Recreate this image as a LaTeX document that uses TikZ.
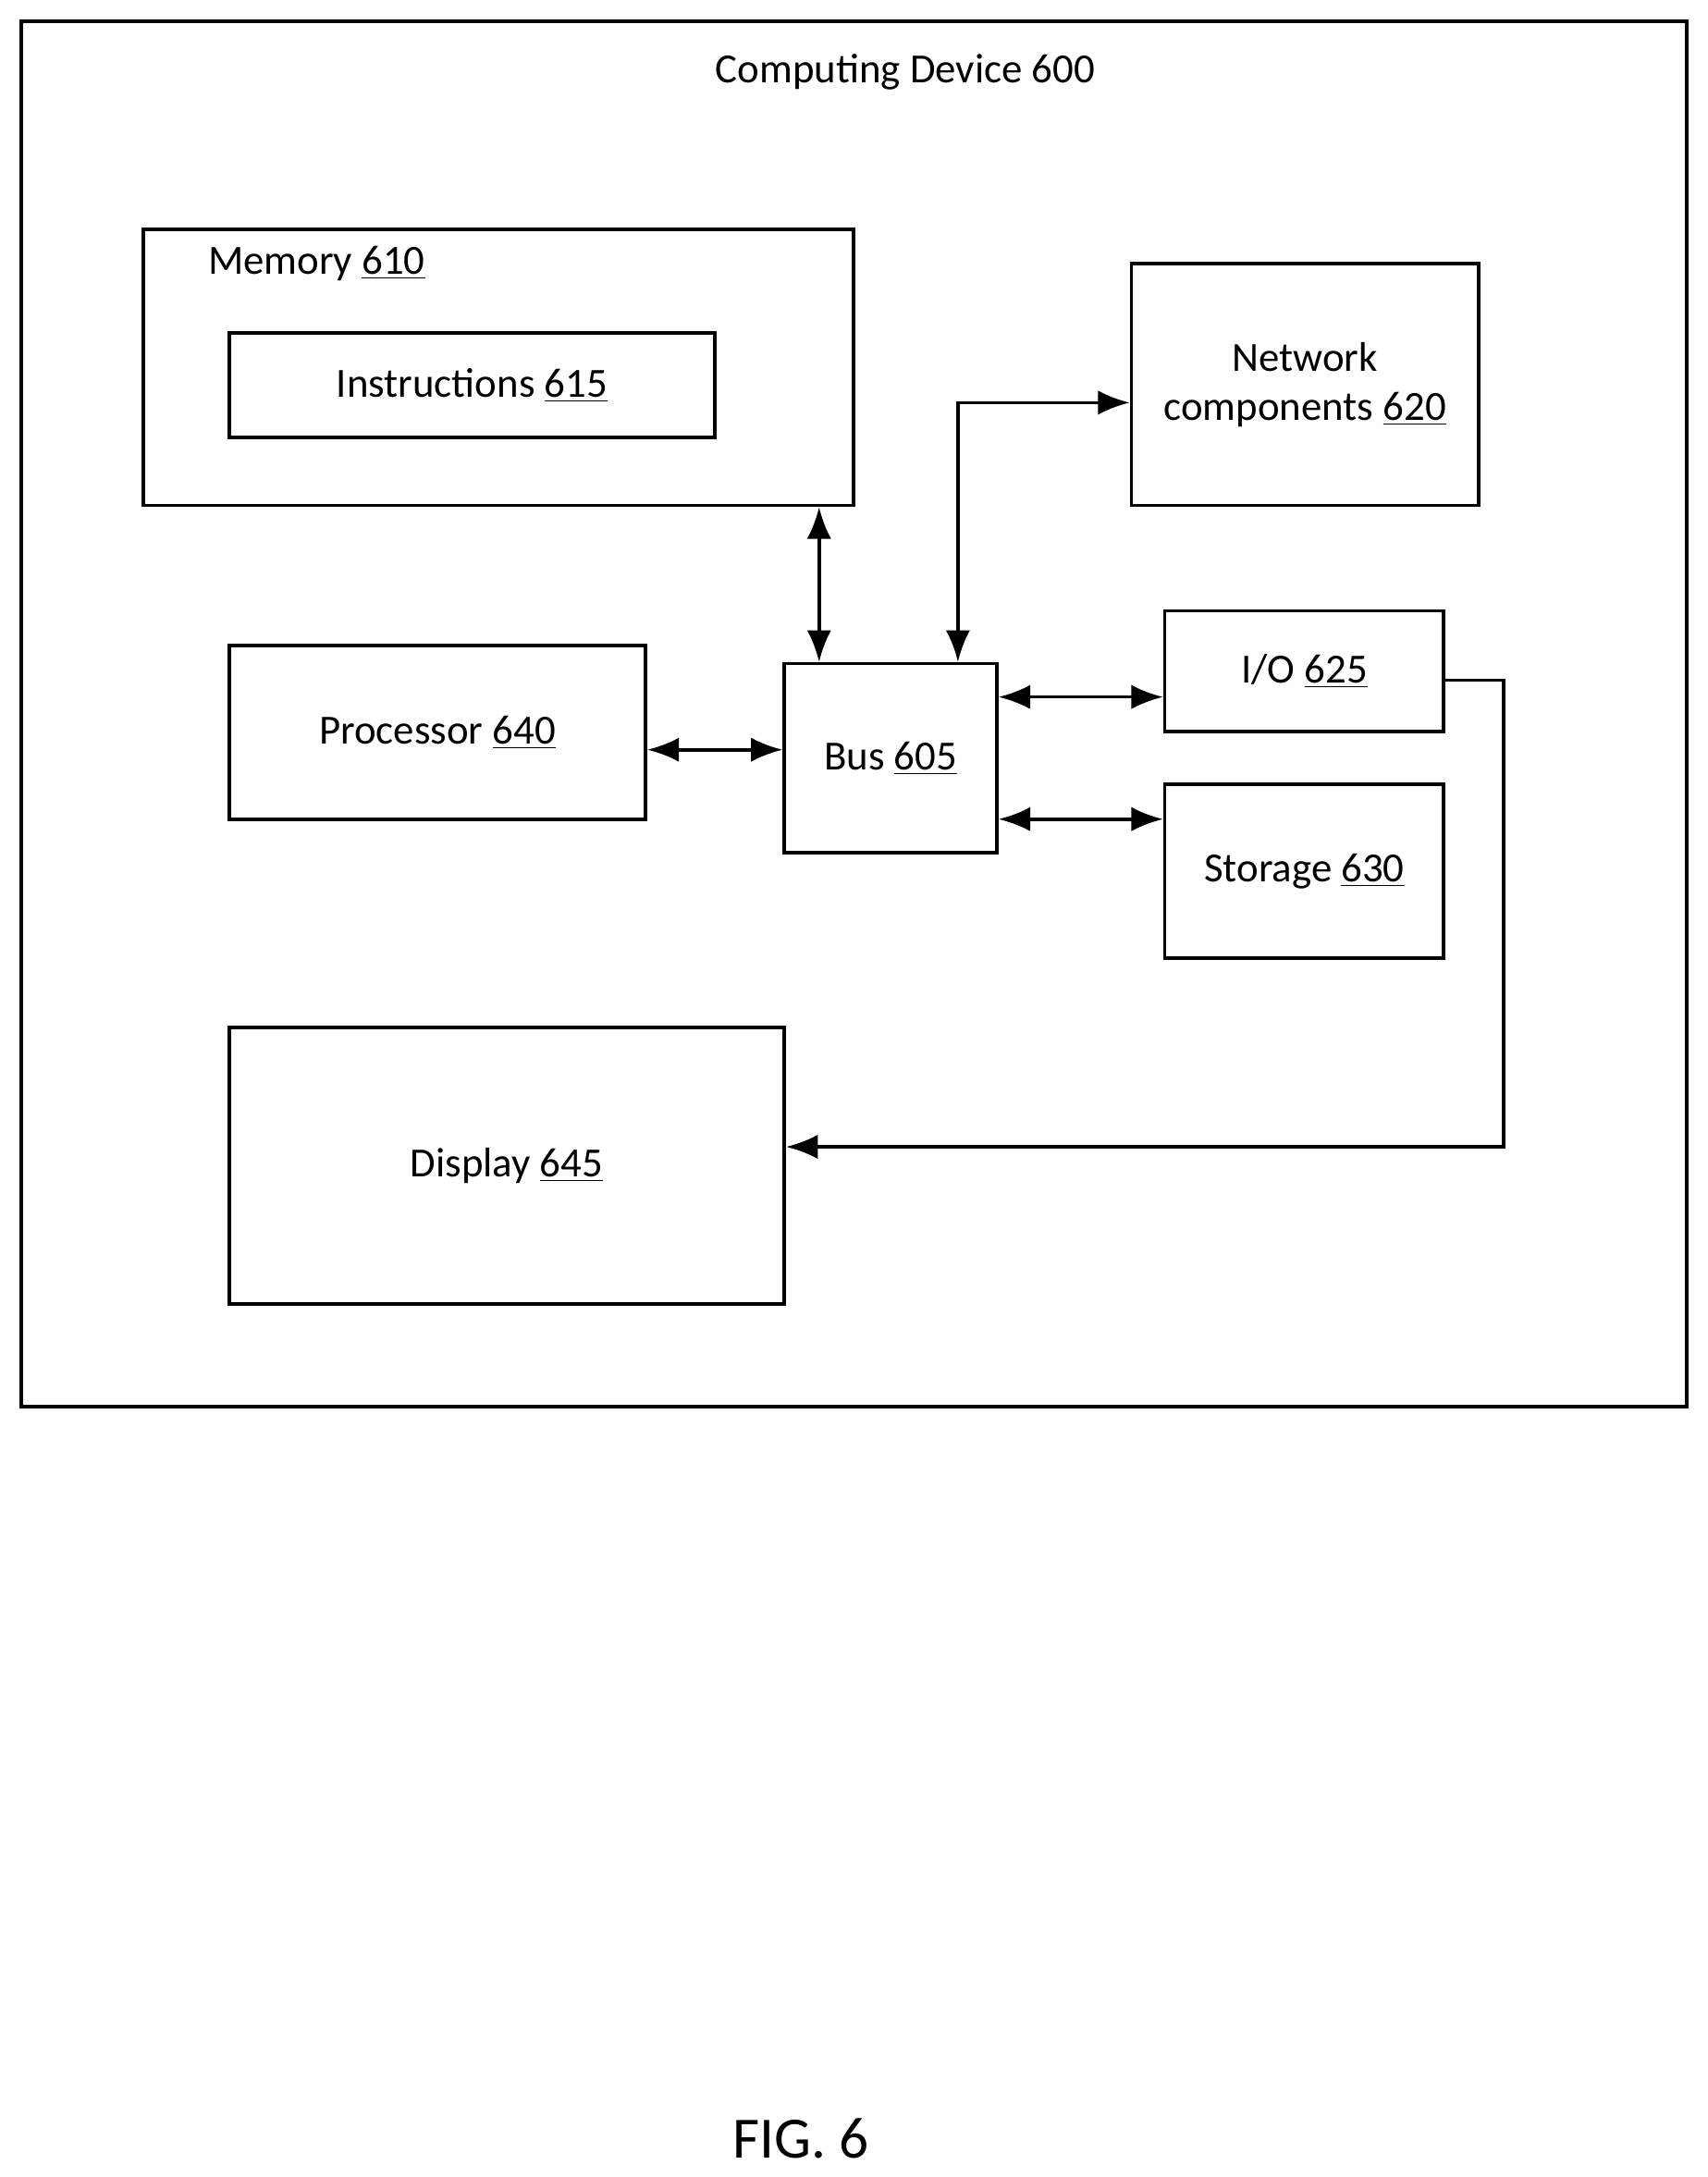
\documentclass[tikz,border=0pt]{standalone}
\usepackage{fontspec}
\setmainfont{Carlito}
\usetikzlibrary{arrows.meta, positioning}

\begin{document}
\begin{tikzpicture}[x=0.02cm, y=-0.02cm, font=\fontsize{17}{20}\selectfont,
    box/.style={draw, line width=1.4pt, inner sep=0pt, align=center},
    link/.style={line width=1.4pt, {Latex[length=13pt,width=10pt]}-{Latex[length=13pt,width=10pt]}},
    oneway/.style={line width=1.4pt, -{Latex[length=13pt,width=10pt]}}]
    \useasboundingbox (0,0) rectangle (1230,1568);

    % Outer device
    \node[box, minimum width=24cm, minimum height=19.96cm] (device) at (615,514) {};
    \node (title) at (652,52) {Computing Device 600};

    % Memory block
    \node[box, minimum width=10.24cm, minimum height=3.98cm] (memory) at (359,264.5) {};
    \node (memlabel) at (228,190) {Memory \underline{610}};
    \node[box, minimum width=7cm, minimum height=1.5cm] (instr) at (340,277.5) {Instructions \underline{615}};

    % Other components
    \node[box, minimum width=5cm, minimum height=3.48cm] (network) at (940,277) {Network\\components \underline{620}};
    \node[box, minimum width=6cm, minimum height=2.5cm] (proc) at (315,527.5) {Processor \underline{640}};
    \node[box, minimum width=3.06cm, minimum height=2.72cm] (bus) at (641.5,546) {Bus \underline{605}};
    \node[box, minimum width=4.02cm, minimum height=1.74cm] (io) at (939.5,483.5) {I/O \underline{625}};
    \node[box, minimum width=4.02cm, minimum height=2.5cm] (storage) at (939.5,627.5) {Storage \underline{630}};
    \node[box, minimum width=8cm, minimum height=3.98cm] (display) at (365,839.5) {Display \underline{645}};

    % Connections
    \draw[link] (memory.south -| 590,0) -- (bus.north -| 590,0);
    \draw[link] (bus.north -| 690,0) |- (network.west |- 0,290);
    \draw[link] (proc.east |- 0,540) -- (bus.west |- 0,540);
    \draw[link] (bus.east |- 0,502) -- (io.west |- 0,502);
    \draw[link] (bus.east |- 0,590) -- (storage.west |- 0,590);
    \draw[oneway] (io.east |- 0,490) -- (1083,490) |- (display.east |- 0,826);

    % Figure label
    \node[font=\fontsize{24}{28}\selectfont] (fig) at (577,1540) {FIG. 6};
\end{tikzpicture}
\end{document}
